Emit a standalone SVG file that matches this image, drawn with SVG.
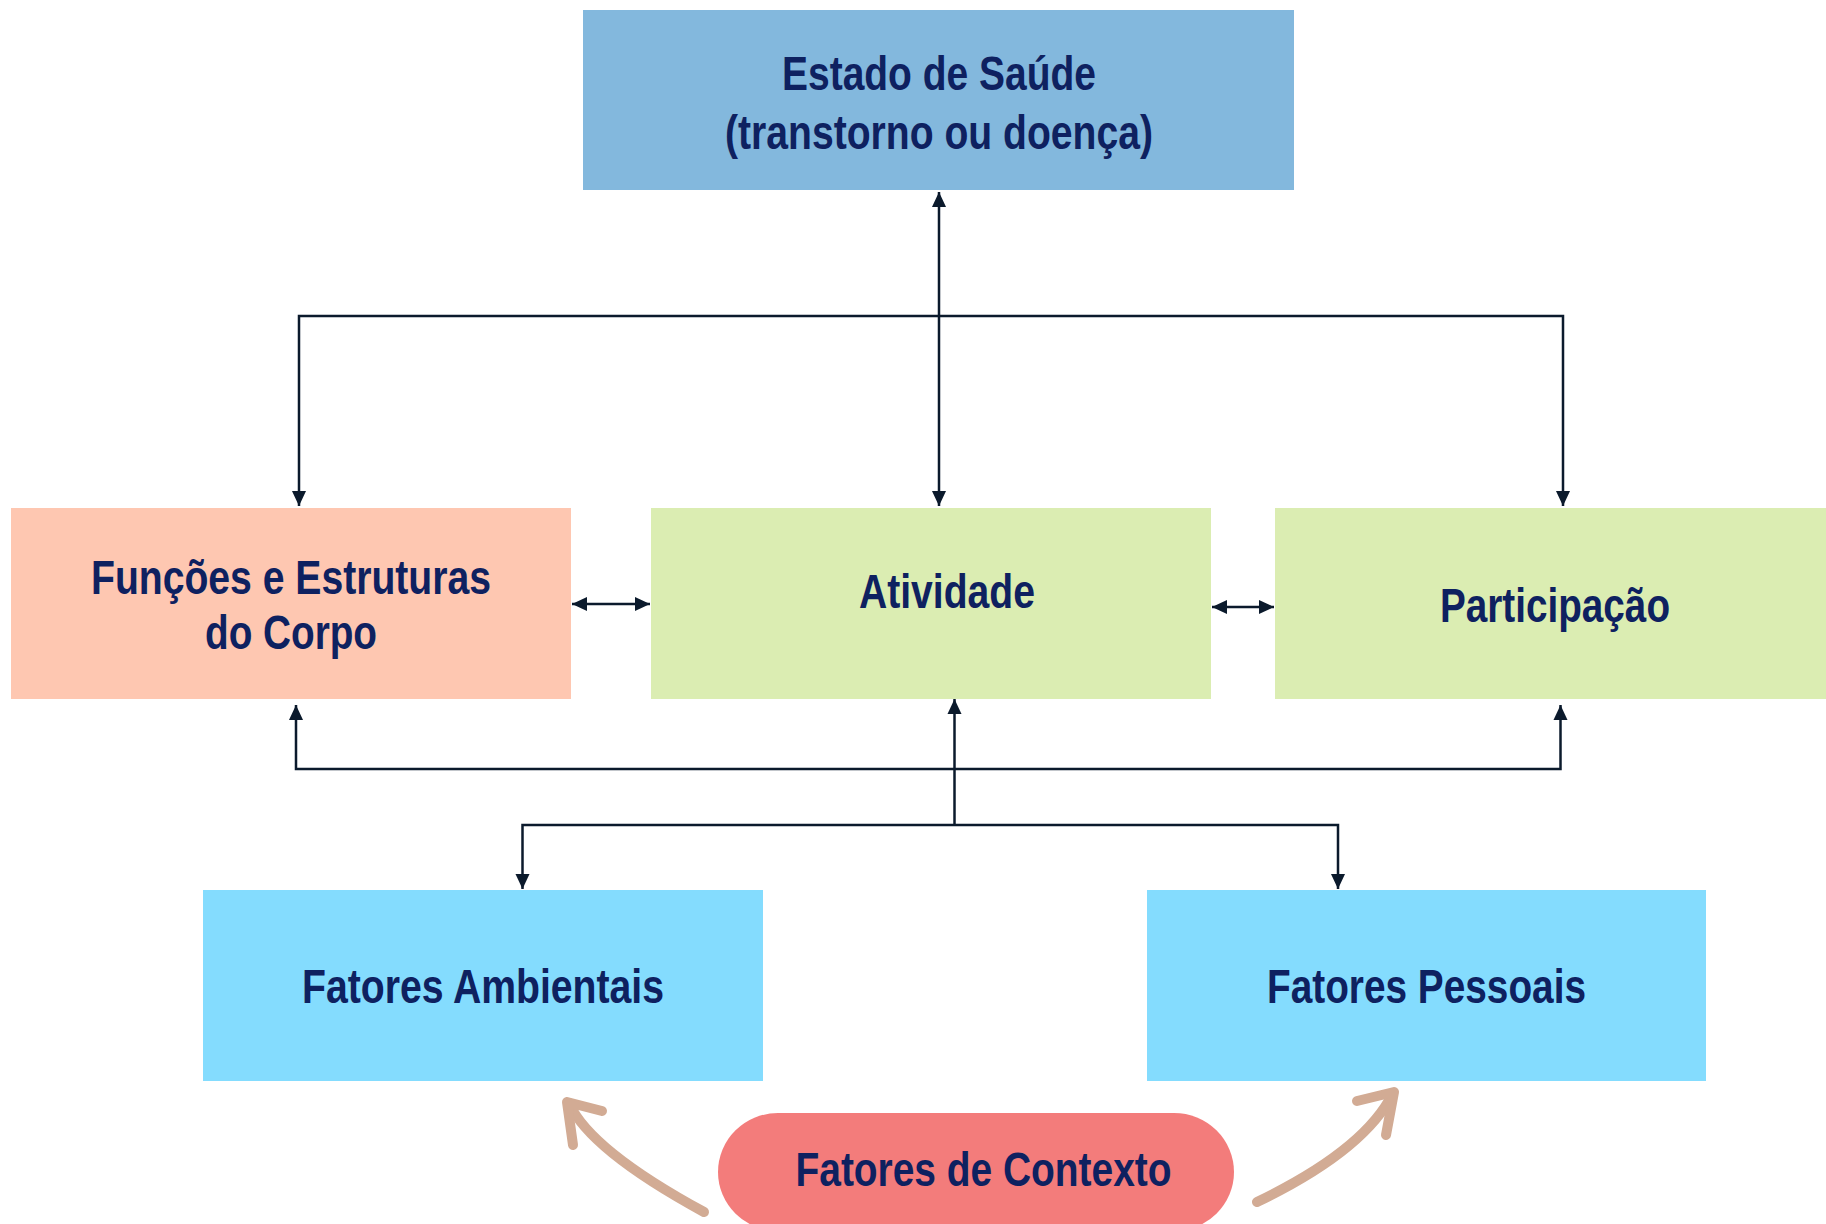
<svg xmlns="http://www.w3.org/2000/svg" width="1826" height="1224" viewBox="0 0 1826 1224">
<style>
.lbl{font-family:"Liberation Sans",Arial,sans-serif;font-weight:bold;font-size:48px;fill:#0e2160;text-anchor:middle}
.ln{stroke:#0b1a2c;stroke-width:2.5;fill:none}
.curve{stroke:#d2ab94;stroke-width:10;fill:none;stroke-linecap:round;stroke-linejoin:round}
</style>
<defs>
<marker id="ah" markerUnits="userSpaceOnUse" markerWidth="16" markerHeight="15" refX="15" refY="7" orient="auto-start-reverse" viewBox="0 0 16 14">
<path d="M0,0 L15,7 L0,14 z" fill="#0b1a2c"/>
</marker>
</defs>
<rect width="1826" height="1224" fill="#ffffff"/>
<g id="connectors">
<line class="ln" x1="939" y1="192" x2="939" y2="506" marker-start="url(#ah)" marker-end="url(#ah)"/>
<polyline class="ln" points="299,506 299,316 1563,316 1563,506" marker-start="url(#ah)" marker-end="url(#ah)"/>
<line class="ln" x1="572" y1="604" x2="650" y2="604" marker-start="url(#ah)" marker-end="url(#ah)"/>
<line class="ln" x1="1212" y1="607" x2="1274" y2="607" marker-start="url(#ah)" marker-end="url(#ah)"/>
<polyline class="ln" points="296,705 296,769 1560.5,769 1560.5,705" marker-start="url(#ah)" marker-end="url(#ah)"/>
<line class="ln" x1="954.5" y1="825" x2="954.5" y2="699" marker-end="url(#ah)"/>
<polyline class="ln" points="522.5,889 522.5,825 1338,825 1338,889" marker-start="url(#ah)" marker-end="url(#ah)"/>
</g>
<g id="estado">
<rect x="583" y="10" width="711" height="180" fill="#83b8dd"/>
<text class="lbl" x="939" y="90" textLength="314" lengthAdjust="spacingAndGlyphs">Estado de Saúde</text>
<text class="lbl" x="939" y="149" textLength="428" lengthAdjust="spacingAndGlyphs">(transtorno ou doença)</text>
</g>
<g id="funcoes">
<rect x="11" y="508" width="560" height="191" fill="#fec7b1"/>
<text class="lbl" x="291" y="594" textLength="400" lengthAdjust="spacingAndGlyphs">Funções e Estruturas</text>
<text class="lbl" x="291" y="649" textLength="172" lengthAdjust="spacingAndGlyphs">do Corpo</text>
</g>
<g id="atividade">
<rect x="651" y="508" width="560" height="191" fill="#dbedb2"/>
<text class="lbl" x="947" y="608" textLength="176" lengthAdjust="spacingAndGlyphs">Atividade</text>
</g>
<g id="participacao">
<rect x="1275" y="508" width="551" height="191" fill="#dbedb2"/>
<text class="lbl" x="1555" y="622" textLength="230" lengthAdjust="spacingAndGlyphs">Participação</text>
</g>
<g id="ambientais">
<rect x="203" y="890" width="560" height="191" fill="#84dcfe"/>
<text class="lbl" x="483" y="1003" textLength="362" lengthAdjust="spacingAndGlyphs">Fatores Ambientais</text>
</g>
<g id="pessoais">
<rect x="1147" y="890" width="559" height="191" fill="#84dcfe"/>
<text class="lbl" x="1426.5" y="1003" textLength="319" lengthAdjust="spacingAndGlyphs">Fatores Pessoais</text>
</g>
<g id="contexto">
<rect x="718" y="1113" width="516" height="118" rx="60" ry="62" fill="#f37c7b"/>
<text class="lbl" x="983.5" y="1186" textLength="376" lengthAdjust="spacingAndGlyphs">Fatores de Contexto</text>
</g>
<g id="context-arrows">
<path class="curve" d="M704,1212 Q590,1150 569,1103"/>
<path class="curve" d="M573,1145 L567,1102 L602,1111"/>
<path class="curve" d="M1257,1202 Q1365,1150 1393,1093"/>
<path class="curve" d="M1357,1101 L1394,1092 L1386,1135"/>
</g>
</svg>
